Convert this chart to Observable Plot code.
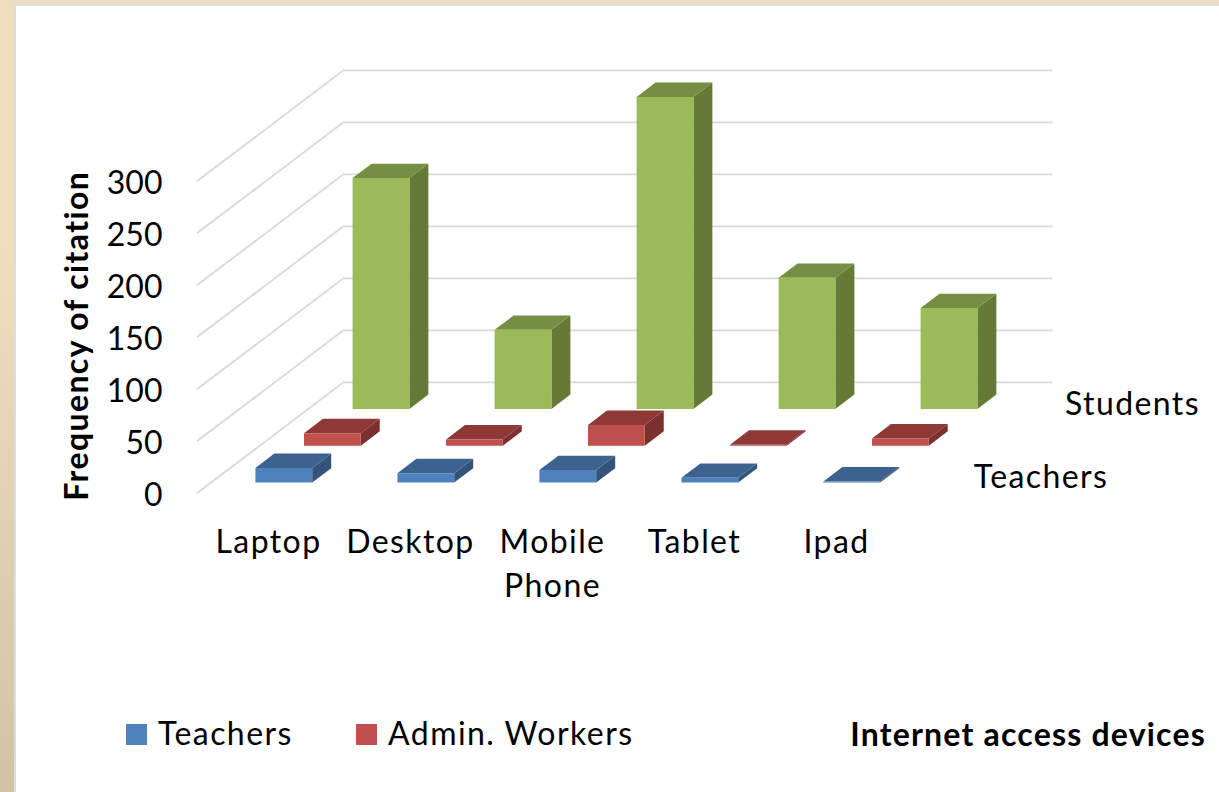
<!DOCTYPE html>
<html>
<head>
<meta charset="utf-8">
<script src="https://cdn.jsdelivr.net/npm/d3@7"></script>
<script src="https://cdn.jsdelivr.net/npm/@observablehq/plot@0.6"></script>
<style>
  html, body { margin: 0; padding: 0; width: 1219px; height: 792px; overflow: hidden; }
  body { position: relative; background: linear-gradient(180deg, #eedfbe 0%, #eedfbe 30%, #d1c3a8 100%); font-family: Lato, sans-serif; color: #000; }
  #panel { position: absolute; left: 14px; top: 4px; right: 0; bottom: 0; background: #fff; border-left: 2px solid #ddd; border-top: 2px solid #ddd; }
  #chart { position: absolute; left: 0; top: 0; }
  #chart svg { letter-spacing: 1.4px; }
  #chart svg g[aria-label="y-axis tick label"] { letter-spacing: 0; }
  #legend { position: absolute; left: 0; top: 690px; width: 1219px; height: 102px; font-size: 32px; letter-spacing: 1.45px; }
  #legend .swatch { position: absolute; top: 34px; width: 21px; height: 21px; }
  #legend .label { position: absolute; top: 23px; line-height: 40px; white-space: nowrap; }
  #legend .title { position: absolute; top: 24px; right: 13px; line-height: 40px; font-weight: 700; font-size: 32px; letter-spacing: 1.2px; white-space: nowrap; }
</style>
</head>
<body>
<div id="panel"></div>
<div id="chart"></div>
<div id="legend"></div>
<script>
const categories = ["Laptop", "Desktop", "Mobile\nPhone", "Tablet", "Ipad"];
const seriesNames = ["Teachers", "Admin. Workers", "Students"];
const teachers = [14, 9, 12, 4.5, 1];
const adminWorkers = [12, 6, 20, 1, 7];
const students = [222, 76, 300, 126, 97];
const yTicks = [0, 50, 100, 150, 200, 250, 300];
const axisTitle = "Frequency of citation";
const xTitle = "Internet access devices";
const frontColors = ["#4f81bd", "#c0504d", "#9bbb59"];
const topColors = ["#3c6390", "#8f3937", "#768e43"];
const sideColors = ["#335379", "#7b302e", "#667a38"];

const seriesValues = [teachers, adminWorkers, students];
const FONT = "Lato, sans-serif";
const SIZE = 32;

// Oblique projection: one depth slot shifts a point in category and value units.
const depthX = 48.6 / 142;
const depthV = 36.8 / 1.04;
const barLeft = 0.312, barWidth = 0.4, barFront = 0.28, barDepth = 0.39;
const P = (c, v, d) => ({px: c + d * depthX, py: v + d * depthV});

// Gridlines: along the left wall, then along the back wall.
const grid = yTicks.flatMap(v => [
  {...P(0, v, 0), v},
  {...P(0, v, 3), v},
  {...P(4.99, v, 3), v}
]);

// Faces, drawn from the back series to the front one.
const faces = [];
for (let s = seriesNames.length - 1; s >= 0; s--) {
  seriesValues[s].forEach((value, c) => {
    const x0 = c + barLeft, x1 = x0 + barWidth;
    const d0 = s + barFront, d1 = d0 + barDepth;
    const add = (face, pts) => pts.forEach(([x, v, d]) =>
      faces.push({...P(x, v, d), id: `${s}-${c}-${face}`, key: `${s}-${face}`}));
    add("side", [[x1, 0, d0], [x1, 0, d1], [x1, value, d1], [x1, value, d0]]);
    add("top", [[x0, value, d0], [x1, value, d0], [x1, value, d1], [x0, value, d1]]);
    add("front", [[x0, 0, d0], [x1, 0, d0], [x1, value, d0], [x0, value, d0]]);
  });
}
const colorDomain = [], colorRange = [];
seriesNames.forEach((_, s) => {
  colorDomain.push(`${s}-front`, `${s}-top`, `${s}-side`);
  colorRange.push(frontColors[s], topColors[s], sideColors[s]);
});

const seriesLabel = (s) => [{...P(5, 0, s + 0.5), name: seriesNames[s]}];

const chart = Plot.plot({
  width: 1219,
  height: 690,
  marginLeft: 197,
  marginRight: 312,
  marginTop: 0,
  marginBottom: 197.7,
  style: {background: "transparent", fontFamily: FONT, overflow: "visible", maxWidth: "none"},
  x: {type: "linear", domain: [0, 5], range: [197, 907]},
  y: {type: "linear", domain: [0, 300], range: [492.3, 180.3]},
  color: {type: "ordinal", domain: colorDomain, range: colorRange},
  marks: [
    Plot.line(grid, {x: "px", y: "py", z: "v", stroke: "#d9d9d9", strokeWidth: 1.8}),
    Plot.line(faces, {x: "px", y: "py", z: "id", fill: "key", stroke: "none", curve: "linear-closed"}),
    Plot.axisY({anchor: "left", ticks: yTicks, tickSize: 0, tickPadding: 35, dy: 2.5, fontSize: SIZE, fill: "#000", label: null, tickFormat: d => String(d)}),
    Plot.axisX({anchor: "bottom", ticks: categories.map((_, i) => i + 0.5), tickSize: 0, tickPadding: 28, fontSize: SIZE, fill: "#000", label: null, lineHeight: 1.4, tickFormat: d => categories[Math.floor(d)]}),
    Plot.text([axisTitle], {frameAnchor: "left", text: d => d, rotate: -90, dx: -120, dy: 254, fontSize: 32, fontWeight: 700, fill: "#000"}),
    Plot.text(seriesLabel(2), {x: "px", y: "py", text: "name", textAnchor: "start", dx: 36, dy: 4, fontSize: SIZE, fill: "#000"}),
    Plot.text(seriesLabel(0), {x: "px", y: "py", text: "name", textAnchor: "start", dx: 42, dy: 3, fontSize: SIZE, fill: "#000"})
  ]
});
document.getElementById("chart").append(chart);

// Legend row below the SVG: only the two lower series are listed in the reference.
const legend = document.getElementById("legend");
const legendLeft = [[126, 158], [356, 388]];
legendLeft.forEach(([sw, lb], s) => {
  const swatch = document.createElement("div");
  swatch.className = "swatch";
  swatch.style.left = sw + "px";
  swatch.style.background = frontColors[s];
  legend.append(swatch);
  const label = document.createElement("div");
  label.className = "label";
  label.style.left = lb + "px";
  label.textContent = seriesNames[s];
  legend.append(label);
});
const title = document.createElement("div");
title.className = "title";
title.textContent = xTitle;
legend.append(title);
</script>
</body>
</html>
